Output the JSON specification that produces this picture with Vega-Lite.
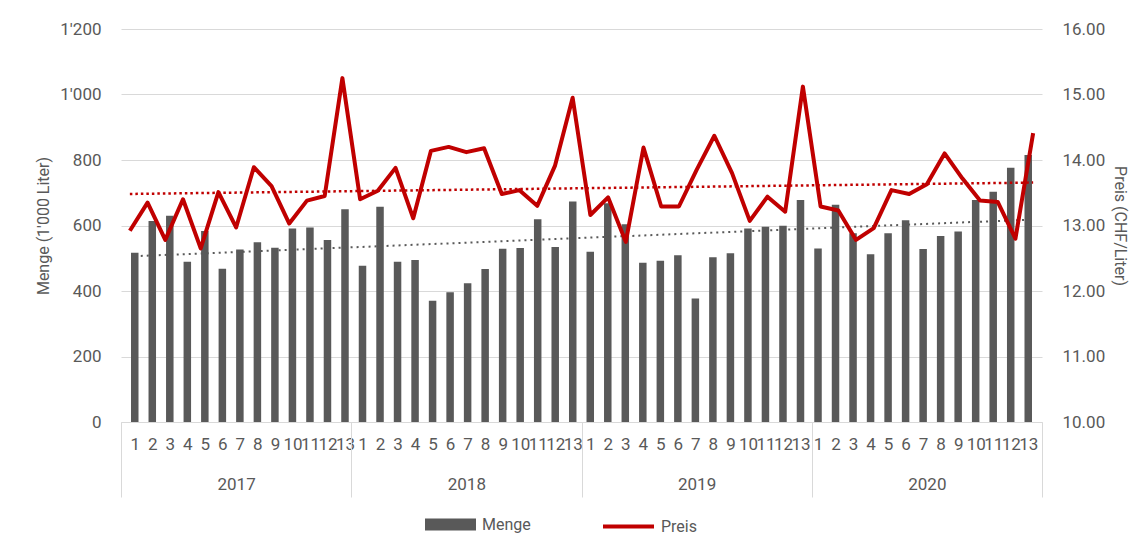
{
  "$schema": "https://vega.github.io/schema/vega-lite/v6.json",
  "width": 921,
  "height": 393,
  "autosize": "none",
  "padding": {"left": 121, "top": 29, "right": 105, "bottom": 130},
  "background": "white",
  "config": {
    "view": {"stroke": null},
    "font": "Roboto",
    "axis": {"labelColor": "#595959", "titleColor": "#595959", "labelFontSize": 17, "titleFontSize": 16, "titleFontWeight": "normal"},
    "legend": {"labelColor": "#595959", "labelFontSize": 16, "title": null}
  },
  "data": {
    "values": [
      {"Jahr": 2017, "Periode": 1, "i": 1, "Menge": 517, "Preis": 12.92},
      {"Jahr": 2017, "Periode": 2, "i": 2, "Menge": 614, "Preis": 13.35},
      {"Jahr": 2017, "Periode": 3, "i": 3, "Menge": 630, "Preis": 12.78},
      {"Jahr": 2017, "Periode": 4, "i": 4, "Menge": 489, "Preis": 13.40},
      {"Jahr": 2017, "Periode": 5, "i": 5, "Menge": 583, "Preis": 12.65},
      {"Jahr": 2017, "Periode": 6, "i": 6, "Menge": 468, "Preis": 13.51},
      {"Jahr": 2017, "Periode": 7, "i": 7, "Menge": 527, "Preis": 12.97},
      {"Jahr": 2017, "Periode": 8, "i": 8, "Menge": 549, "Preis": 13.89},
      {"Jahr": 2017, "Periode": 9, "i": 9, "Menge": 532, "Preis": 13.60},
      {"Jahr": 2017, "Periode": 10, "i": 10, "Menge": 591, "Preis": 13.03},
      {"Jahr": 2017, "Periode": 11, "i": 11, "Menge": 594, "Preis": 13.38},
      {"Jahr": 2017, "Periode": 12, "i": 12, "Menge": 556, "Preis": 13.45},
      {"Jahr": 2017, "Periode": 13, "i": 13, "Menge": 650, "Preis": 15.25},
      {"Jahr": 2018, "Periode": 1, "i": 14, "Menge": 477, "Preis": 13.40},
      {"Jahr": 2018, "Periode": 2, "i": 15, "Menge": 657, "Preis": 13.53},
      {"Jahr": 2018, "Periode": 3, "i": 16, "Menge": 489, "Preis": 13.88},
      {"Jahr": 2018, "Periode": 4, "i": 17, "Menge": 495, "Preis": 13.11},
      {"Jahr": 2018, "Periode": 5, "i": 18, "Menge": 370, "Preis": 14.14},
      {"Jahr": 2018, "Periode": 6, "i": 19, "Menge": 396, "Preis": 14.20},
      {"Jahr": 2018, "Periode": 7, "i": 20, "Menge": 424, "Preis": 14.12},
      {"Jahr": 2018, "Periode": 8, "i": 21, "Menge": 467, "Preis": 14.18},
      {"Jahr": 2018, "Periode": 9, "i": 22, "Menge": 529, "Preis": 13.48},
      {"Jahr": 2018, "Periode": 10, "i": 23, "Menge": 531, "Preis": 13.54},
      {"Jahr": 2018, "Periode": 11, "i": 24, "Menge": 619, "Preis": 13.30},
      {"Jahr": 2018, "Periode": 12, "i": 25, "Menge": 534, "Preis": 13.91},
      {"Jahr": 2018, "Periode": 13, "i": 26, "Menge": 673, "Preis": 14.95},
      {"Jahr": 2019, "Periode": 1, "i": 27, "Menge": 520, "Preis": 13.16},
      {"Jahr": 2019, "Periode": 2, "i": 28, "Menge": 668, "Preis": 13.43},
      {"Jahr": 2019, "Periode": 3, "i": 29, "Menge": 604, "Preis": 12.75},
      {"Jahr": 2019, "Periode": 4, "i": 30, "Menge": 486, "Preis": 14.19},
      {"Jahr": 2019, "Periode": 5, "i": 31, "Menge": 492, "Preis": 13.29},
      {"Jahr": 2019, "Periode": 6, "i": 32, "Menge": 509, "Preis": 13.29},
      {"Jahr": 2019, "Periode": 7, "i": 33, "Menge": 377, "Preis": 13.85},
      {"Jahr": 2019, "Periode": 8, "i": 34, "Menge": 503, "Preis": 14.37},
      {"Jahr": 2019, "Periode": 9, "i": 35, "Menge": 515, "Preis": 13.80},
      {"Jahr": 2019, "Periode": 10, "i": 36, "Menge": 591, "Preis": 13.07},
      {"Jahr": 2019, "Periode": 11, "i": 37, "Menge": 596, "Preis": 13.44},
      {"Jahr": 2019, "Periode": 12, "i": 38, "Menge": 599, "Preis": 13.21},
      {"Jahr": 2019, "Periode": 13, "i": 39, "Menge": 678, "Preis": 15.12},
      {"Jahr": 2020, "Periode": 1, "i": 40, "Menge": 530, "Preis": 13.29},
      {"Jahr": 2020, "Periode": 2, "i": 41, "Menge": 663, "Preis": 13.23},
      {"Jahr": 2020, "Periode": 3, "i": 42, "Menge": 576, "Preis": 12.78},
      {"Jahr": 2020, "Periode": 4, "i": 43, "Menge": 512, "Preis": 12.96},
      {"Jahr": 2020, "Periode": 5, "i": 44, "Menge": 576, "Preis": 13.54},
      {"Jahr": 2020, "Periode": 6, "i": 45, "Menge": 616, "Preis": 13.48},
      {"Jahr": 2020, "Periode": 7, "i": 46, "Menge": 528, "Preis": 13.63},
      {"Jahr": 2020, "Periode": 8, "i": 47, "Menge": 568, "Preis": 14.10},
      {"Jahr": 2020, "Periode": 9, "i": 48, "Menge": 582, "Preis": 13.72},
      {"Jahr": 2020, "Periode": 10, "i": 49, "Menge": 678, "Preis": 13.38},
      {"Jahr": 2020, "Periode": 11, "i": 50, "Menge": 703, "Preis": 13.36},
      {"Jahr": 2020, "Periode": 12, "i": 51, "Menge": 776, "Preis": 12.80},
      {"Jahr": 2020, "Periode": 13, "i": 52, "Menge": 815, "Preis": 14.41}
    ]
  },
  "resolve": {"scale": {"x": "independent", "y": "independent"}},
  "layer": [
    {
      "layer": [
        {
          "mark": {"type": "bar", "width": 7.5},
          "encoding": {
            "x": {
              "field": "i", "type": "quantitative",
              "scale": {"domain": [0.5, 52.5], "nice": false, "zero": false},
              "axis": {
                "orient": "bottom",
                "values": [1,2,3,4,5,6,7,8,9,10,11,12,13,14,15,16,17,18,19,20,21,22,23,24,25,26,27,28,29,30,31,32,33,34,35,36,37,38,39,40,41,42,43,44,45,46,47,48,49,50,51,52],
                "tickCount": 52,
                "labelExpr": "(datum.value - 1) % 13 + 1",
                "ticks": false, "grid": false, "domain": true, "domainColor": "#D9D9D9", "domainWidth": 1,
                "title": null, "labelOverlap": false, "labelFlush": false, "labelBound": false, "labelPadding": 14, "labelAngle": 0
              }
            },
            "y": {
              "field": "Menge", "type": "quantitative",
              "scale": {"domain": [0, 1200], "nice": false},
              "axis": {
                "values": [0, 200, 400, 600, 800, 1000, 1200],
                "labelExpr": "replace(format(datum.value, ','), ',', \"'\")",
                "title": "Menge (1'000 Liter)", "grid": true, "gridColor": "#D9D9D9", "gridWidth": 1,
                "ticks": false, "domain": false, "labelPadding": 20, "titlePadding": 8
              }
            },
            "fill": {
              "datum": "Menge", "type": "nominal",
              "scale": {"range": ["#595959"]},
              "legend": {"orient": "none", "legendX": 304, "legendY": 470, "symbolType": "M-1,-0.235H1V0.235H-1Z", "symbolSize": 2601, "symbolStrokeWidth": 0, "labelOffset": 6}
            }
          }
        },
        {
          "transform": [{"regression": "Menge", "on": "i"}],
          "mark": {"type": "line", "color": "#595959", "strokeWidth": 2, "strokeDash": [2, 4]},
          "encoding": {
            "x": {"field": "i", "type": "quantitative"},
            "y": {"field": "Menge", "type": "quantitative"}
          }
        }
      ]
    },
    {
      "layer": [
        {
          "mark": {"type": "line", "strokeWidth": 4, "strokeJoin": "round"},
          "encoding": {
            "x": {"field": "i", "type": "quantitative", "scale": {"domain": [0.5, 52.5], "nice": false, "zero": false}, "axis": null},
            "y": {
              "field": "Preis", "type": "quantitative",
              "scale": {"domain": [10, 16], "nice": false, "zero": false},
              "axis": {
                "orient": "right", "values": [10, 11, 12, 13, 14, 15, 16], "format": ".2f",
                "title": "Preis (CHF/Liter)", "grid": false, "ticks": false, "domain": false,
                "labelPadding": 20, "titlePadding": 7
              }
            },
            "stroke": {
              "datum": "Preis", "type": "nominal",
              "scale": {"range": ["#C00000"]},
              "legend": {"orient": "none", "legendX": 480, "legendY": 470, "symbolType": "stroke", "symbolSize": 2601, "symbolStrokeWidth": 4, "labelOffset": 5}
            }
          }
        },
        {
          "transform": [{"regression": "Preis", "on": "i"}],
          "mark": {"type": "line", "color": "#C00000", "strokeWidth": 2.5, "strokeDash": [2.5, 3]},
          "encoding": {
            "x": {"field": "i", "type": "quantitative"},
            "y": {"field": "Preis", "type": "quantitative"}
          }
        }
      ]
    },
    {
      "mark": {"type": "bar", "opacity": 0},
      "encoding": {
        "x": {
          "field": "Jahr", "type": "ordinal",
          "scale": {"type": "band", "paddingInner": 0, "paddingOuter": 0},
          "axis": {
            "orient": "bottom",
            "title": null, "domain": false, "grid": false, "ticks": true, "tickBand": "extent", "tickExtra": true,
            "tickSize": 75, "tickColor": "#D9D9D9", "tickWidth": 1, "labelPadding": -21, "labelAngle": 0
          }
        }
      }
    }
  ]
}
